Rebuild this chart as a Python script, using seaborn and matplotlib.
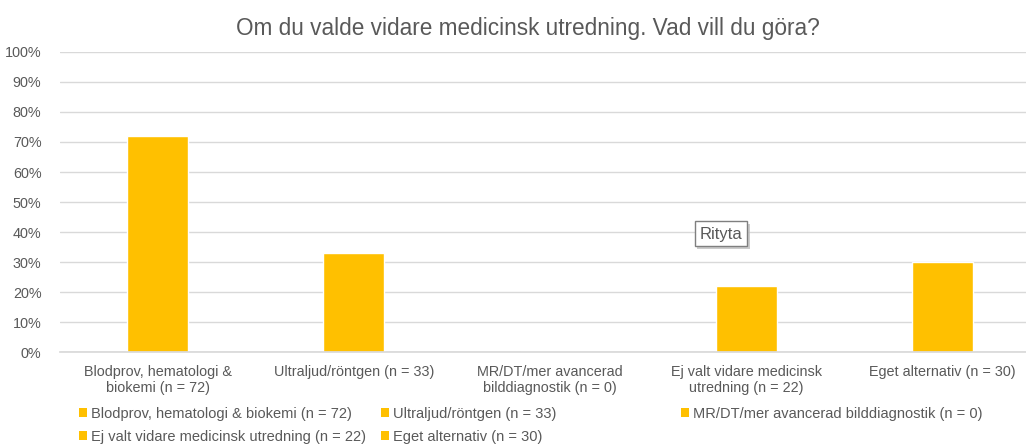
import matplotlib
matplotlib.use('Agg')
import matplotlib.pyplot as plt
from matplotlib.patches import Patch
import matplotlib.patheffects as pe
import seaborn as sns

# --- data ---
categories = [
    'Blodprov, hematologi & biokemi (n = 72)',
    'Ultraljud/röntgen (n = 33)',
    'MR/DT/mer avancerad bilddiagnostik (n = 0)',
    'Ej valt vidare medicinsk utredning (n = 22)',
    'Eget alternativ (n = 30)',
]
tick_labels = [
    'Blodprov, hematologi &\nbiokemi (n = 72)',
    'Ultraljud/röntgen (n = 33)',
    'MR/DT/mer avancerad\nbilddiagnostik (n = 0)',
    'Ej valt vidare medicinsk\nutredning (n = 22)',
    'Eget alternativ (n = 30)',
]
percent = [72, 33, 0, 22, 30]
y_ticks = list(range(0, 101, 10))

title = 'Om du valde vidare medicinsk utredning. Vad vill du göra?'
bar_color = '#FFC000'
grey = '#595959'

sns.set_theme(style='white')
plt.rcParams['font.family'] = ['Liberation Sans', 'DejaVu Sans']

fig = plt.figure(figsize=(10.26, 4.44), dpi=100)
# plot area runs a bit past the right edge, as in the screenshot
ax = fig.add_axes([59.5 / 1026, 0.207, 981 / 1026, 0.676])

sns.barplot(x=categories, y=percent, color=bar_color, width=0.31,
            saturation=1, ax=ax)

ax.set_ylim(0, 100)
ax.set_xlim(-0.5, len(categories) - 0.5)
ax.set_yticks(y_ticks)
ax.set_yticklabels([f'{t}%' for t in y_ticks])
ax.set_xticks(range(len(categories)))
ax.set_xticklabels(tick_labels, linespacing=1.2)
ax.tick_params(axis='both', length=0, labelsize=10.4, colors=grey)
ax.tick_params(axis='x', pad=9)
ax.tick_params(axis='y', pad=13)
ax.yaxis.grid(True, color='#d9d9d9', linewidth=1)
ax.set_axisbelow(True)
for side in ['top', 'right', 'left']:
    ax.spines[side].set_visible(False)
ax.spines['bottom'].set_color('#d9d9d9')
ax.set_xlabel('')
ax.set_ylabel('')

fig.text(528 / 1026, 1 - 28 / 444, title, ha='center', va='center',
         fontsize=16.3, color=grey)

# legend in three columns like the Excel layout (row-major)
handles = [Patch(facecolor=bar_color, edgecolor='none') for _ in categories]
columns = [[0, 3], [1, 4], [2]]
col_x = [79, 381, 681]
for cx, idx in zip(col_x, columns):
    leg = fig.legend([handles[i] for i in idx], [categories[i] for i in idx],
                     loc='upper left', bbox_to_anchor=(cx / 1026, 1 - 407 / 444),
                     frameon=False, fontsize=10.5, handlelength=0.55,
                     handleheight=0.55, handletextpad=0.3, labelspacing=0.62,
                     borderaxespad=0, borderpad=0)
    for t in leg.get_texts():
        t.set_color(grey)

# "Rityta" tooltip
fig.text(721 / 1026, 1 - 234 / 444, 'Rityta', ha='center', va='center',
         fontsize=12, color=grey,
         bbox=dict(boxstyle='square,pad=0.3', facecolor='white',
                   edgecolor='#7f7f7f', linewidth=1,
                   path_effects=[pe.SimplePatchShadow(offset=(2, -2), shadow_rgbFace='#bfbfbf', alpha=0.8),
                                 pe.Normal()]))

fig.savefig('out.png', dpi=100)
